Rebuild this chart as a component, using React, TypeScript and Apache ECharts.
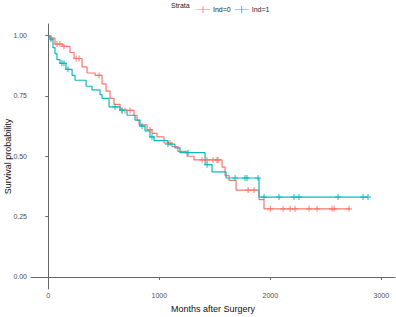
import React, { useEffect, useRef } from "react";
import * as echarts from "echarts";

// Kaplan-Meier steps: [time, survival after time]
const ind0Steps: [number, number][] = [
  [0, 1.0], [15, 0.99], [60, 0.965], [132, 0.955], [195, 0.93], [232, 0.905],
  [304, 0.87], [349, 0.845], [421, 0.835], [484, 0.8], [520, 0.77], [556, 0.74],
  [592, 0.715], [646, 0.69], [772, 0.67], [799, 0.65], [817, 0.63], [889, 0.61],
  [934, 0.595], [979, 0.58], [1042, 0.555], [1114, 0.54], [1168, 0.52], [1250, 0.5],
  [1312, 0.485], [1565, 0.455], [1592, 0.42], [1628, 0.4], [1691, 0.36], [1898, 0.32],
  [1943, 0.282],
];
const ind0End = 2718;
const ind0Censors = [24, 78, 105, 141, 250, 277, 457, 664, 691, 736, 916, 1096, 1385, 1430, 1484, 1520, 1529, 1800, 1853, 2000, 2115, 2178, 2223, 2349, 2421, 2556, 2574, 2709];

const ind1Steps: [number, number][] = [
  [0, 1.0], [15, 0.985], [42, 0.95], [60, 0.925], [78, 0.9], [105, 0.885],
  [159, 0.86], [214, 0.835], [241, 0.815], [340, 0.79], [394, 0.775], [466, 0.755],
  [484, 0.74], [547, 0.705], [646, 0.69], [709, 0.67], [781, 0.65], [826, 0.625],
  [871, 0.605], [916, 0.58], [952, 0.565], [1078, 0.55], [1141, 0.535], [1186, 0.515],
  [1412, 0.465], [1475, 0.435], [1601, 0.41], [1898, 0.331],
];
const ind1End = 2880;
const ind1Censors = [24, 123, 141, 177, 601, 664, 844, 934, 1078, 1259, 1430, 1682, 1772, 1790, 1889, 1943, 2078, 2213, 2258, 2610, 2835, 2880];

const xTicks = [0, 1000, 2000, 3000];
const yTicks = [0, 0.25, 0.5, 0.75, 1];
const strataNames = ["Ind=0", "Ind=1"];

const RED = "#F8766D";
const TEAL = "#0DB8BC";
const AXIS = "#666";
const PLUS = "path://M4,0H6V4H10V6H6V10H4V6H0V4H4Z";
const LEGEND_ICON = "path://M0,4.5H20V5.5H0Z M9.4,0H10.6V10H9.4Z";

function survAt(steps: [number, number][], t: number): number {
  let s = steps[0][1];
  for (const [tt, v] of steps) {
    if (tt <= t) s = v;
  }
  return s;
}

export default function App() {
  const ref = useRef<HTMLDivElement>(null);
  useEffect(() => {
    if (!ref.current) return;
    const chart = echarts.init(ref.current, null, { renderer: "svg" });
    const font = "'Liberation Sans', Arial, sans-serif";
    const line0 = [...ind0Steps, [ind0End, ind0Steps[ind0Steps.length - 1][1]]];
    const line1 = [...ind1Steps, [ind1End, ind1Steps[ind1Steps.length - 1][1]]];
    chart.setOption({
      animation: false,
      backgroundColor: "#fff",
      textStyle: { fontFamily: font },
      grid: { left: 31, right: 1, top: 24, bottom: 28, containLabel: false, outerBoundsMode: "none" },
      legend: {
        top: 1,
        left: 191,
        itemWidth: 14,
        itemHeight: 7,
        itemGap: 4,
        textStyle: { fontSize: 7, color: "#222", fontFamily: font, padding: [0, 0, 0, -2] },
        data: [
          { name: strataNames[0], icon: LEGEND_ICON },
          { name: strataNames[1], icon: LEGEND_ICON },
        ],
      },
      graphic: [
        {
          type: "text",
          left: 171,
          top: 2,
          style: { text: "Strata", fontSize: 7, fill: "#222", fontFamily: font },
        },
      ],
      xAxis: {
        type: "value",
        min: -156,
        max: 3123,
        name: "Months after Surgery",
        nameLocation: "middle",
        nameGap: 15,
        nameMoveOverlap: false,
        nameTextStyle: { fontSize: 9, color: "#111", fontFamily: font },
        splitLine: { show: false },
        axisLine: { show: true, lineStyle: { color: AXIS, width: 1 } },
        axisTick: { show: true, length: 3, lineStyle: { color: AXIS }, customValues: xTicks },
        axisLabel: {
          fontSize: 7,
          color: "#4D4D4D",
          margin: 3,
          customValues: xTicks,
          fontFamily: font,
          formatter: (v: number) => String(Math.round(v)),
        },
      },
      yAxis: {
        type: "value",
        min: -0.05,
        max: 1.048,
        name: "Survival probability",
        nameLocation: "middle",
        nameGap: 19,
        nameMoveOverlap: false,
        nameTextStyle: { fontSize: 9, color: "#111", fontFamily: font },
        splitLine: { show: false },
        axisLine: { show: true, lineStyle: { color: AXIS, width: 1 } },
        axisTick: { show: true, length: 3, lineStyle: { color: AXIS }, customValues: yTicks },
        axisLabel: {
          fontSize: 7,
          color: "#4D4D4D",
          margin: 4,
          customValues: yTicks,
          fontFamily: font,
          formatter: (v: number) => v.toFixed(2),
        },
      },
      series: [
        {
          name: strataNames[0],
          type: "line",
          step: "end",
          data: line0,
          showSymbol: false,
          symbol: "none",
          color: RED,
          lineStyle: { color: RED, width: 1.2 },
          z: 2,
        },
        {
          name: strataNames[1],
          type: "line",
          step: "end",
          data: line1,
          showSymbol: false,
          symbol: "none",
          color: TEAL,
          lineStyle: { color: TEAL, width: 1.2 },
          z: 3,
        },
        {
          name: strataNames[0],
          type: "scatter",
          symbol: PLUS,
          symbolSize: 6,
          itemStyle: { color: RED },
          data: ind0Censors.map((t) => [t, survAt(ind0Steps, t)]),
          z: 4,
        },
        {
          name: strataNames[1],
          type: "scatter",
          symbol: PLUS,
          symbolSize: 6,
          itemStyle: { color: TEAL },
          data: ind1Censors.map((t) => [t, survAt(ind1Steps, t)]),
          z: 5,
        },
      ],
    });
    return () => chart.dispose();
  }, []);
  return (
    <div
      ref={ref}
      style={{ position: "fixed", left: 0, top: 0, width: 396, height: 317, background: "#fff" }}
    />
  );
}
